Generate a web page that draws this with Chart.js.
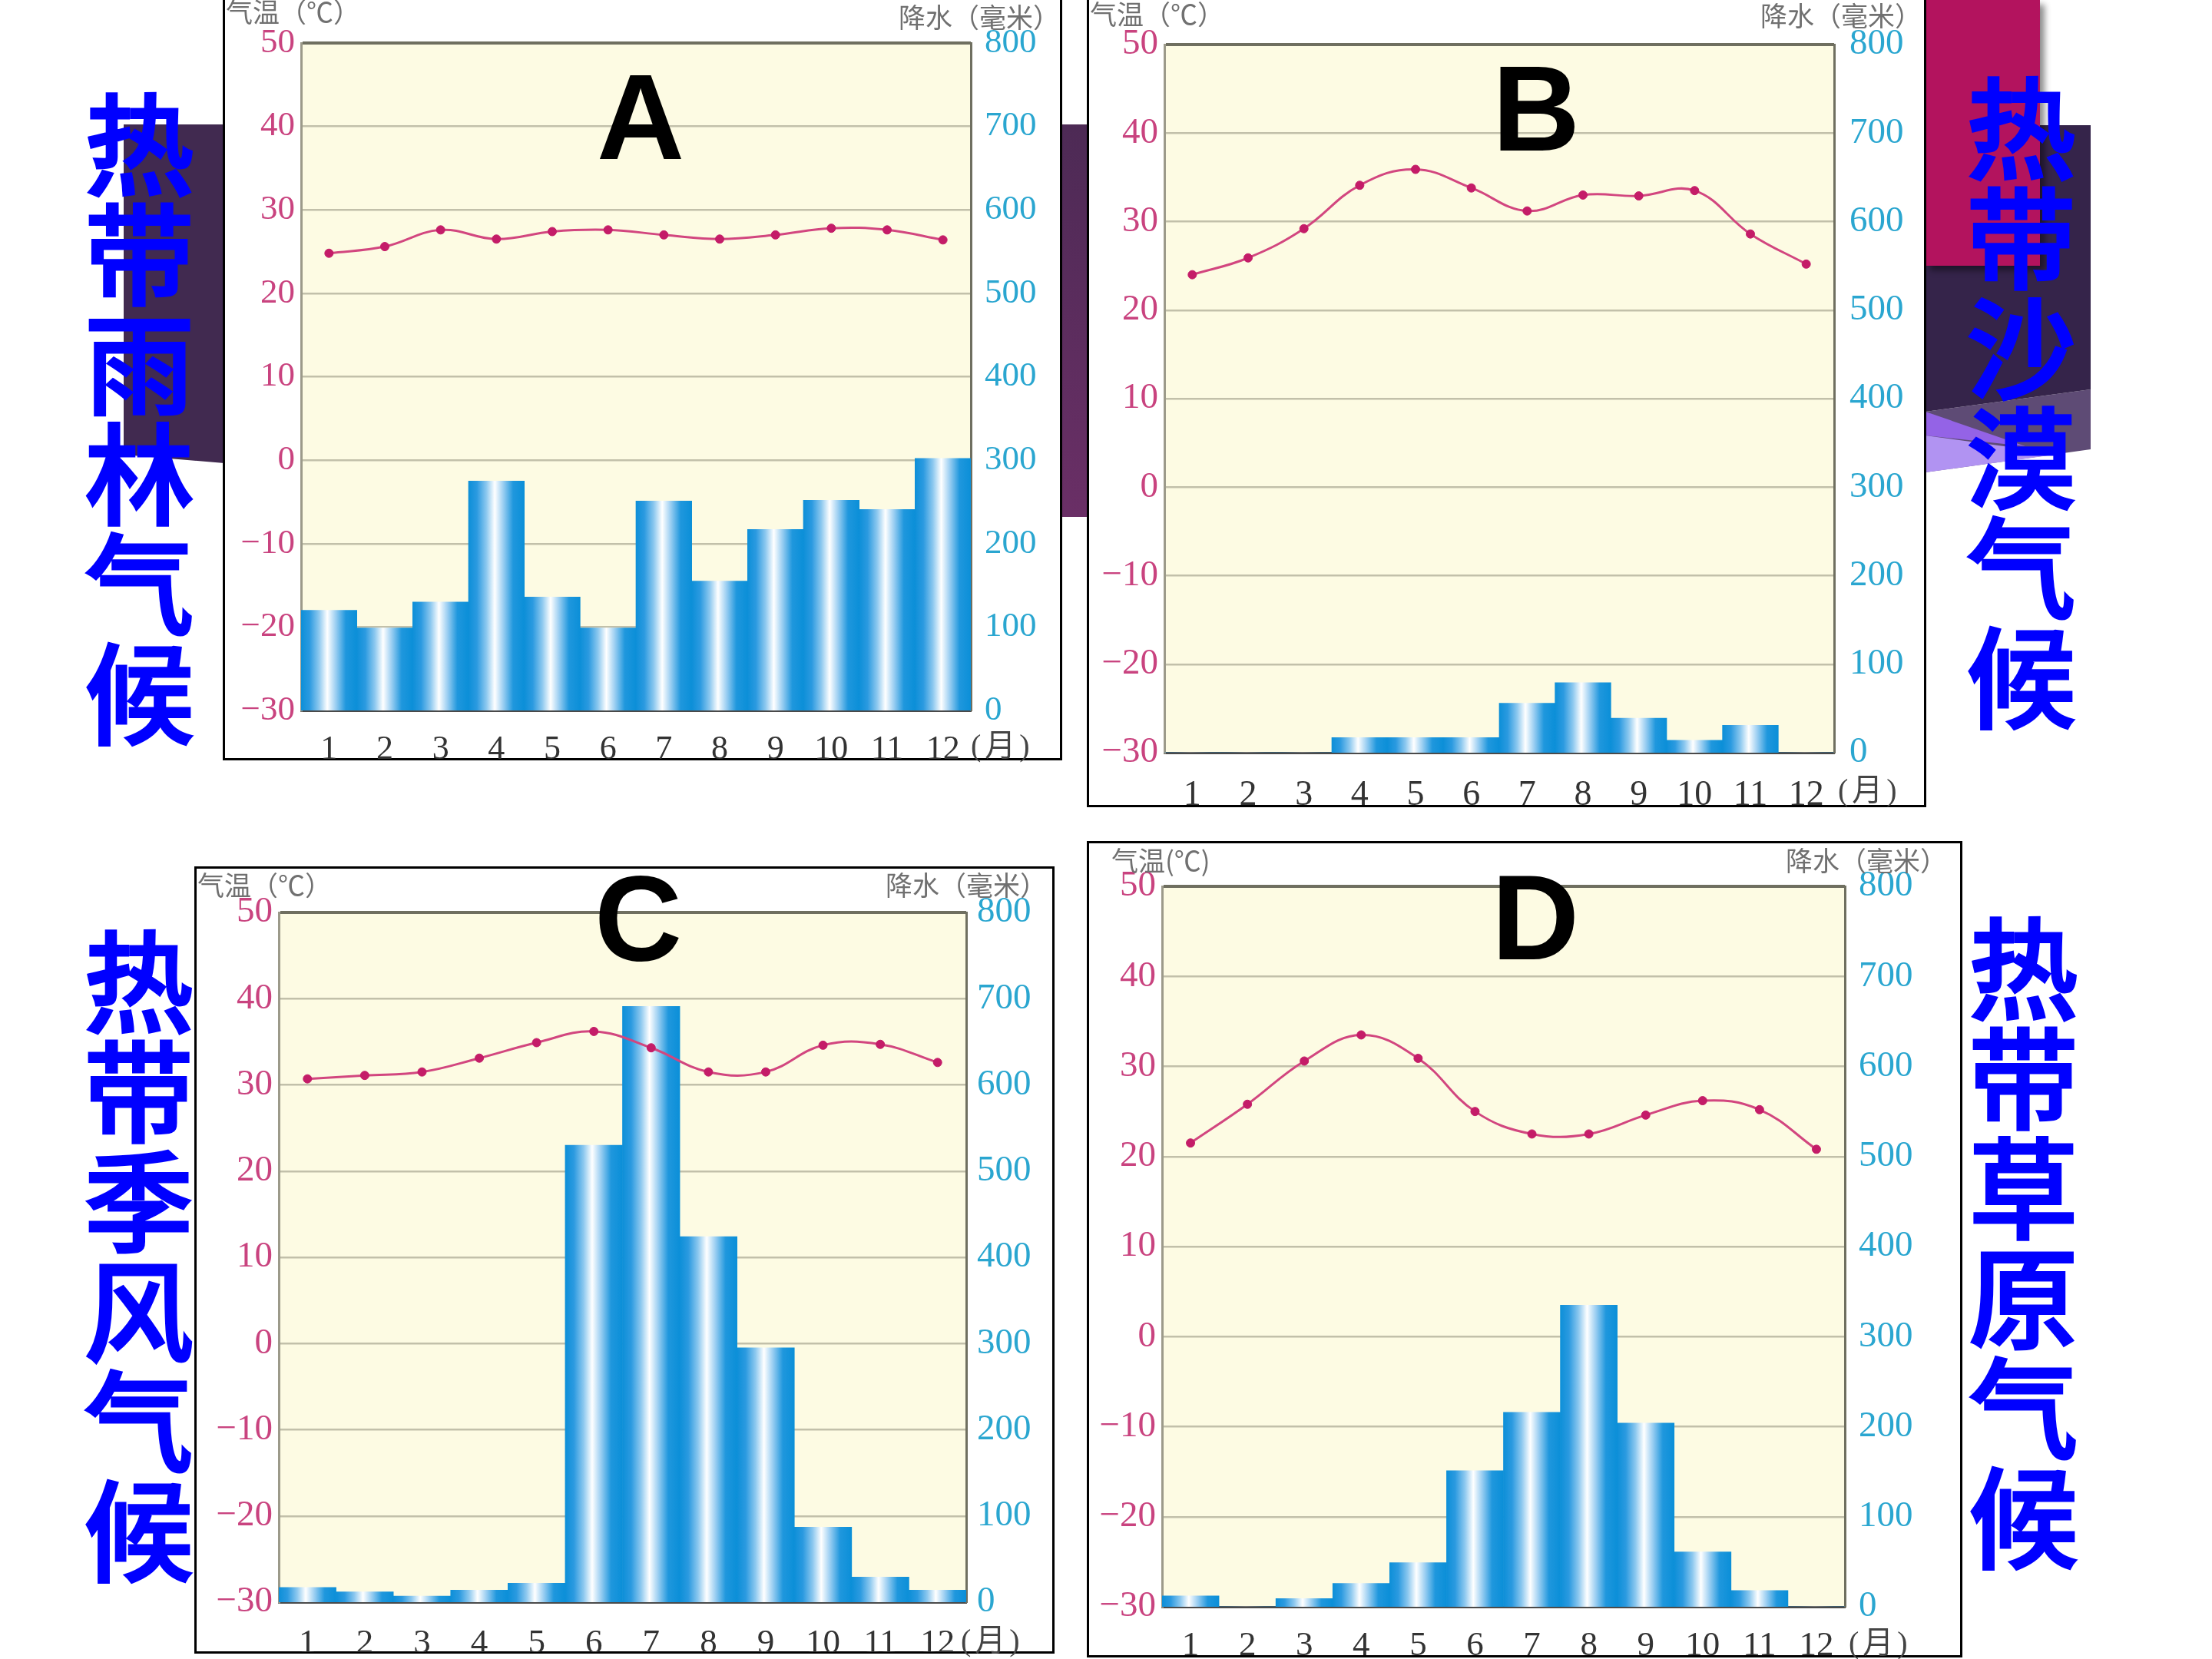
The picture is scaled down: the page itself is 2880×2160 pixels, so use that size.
<!DOCTYPE html>
<html><head><meta charset="utf-8">
<script src="https://cdn.jsdelivr.net/npm/chart.js@4.4.0/dist/chart.umd.min.js"></script>
<style>
html,body{margin:0;padding:0;background:#fff;}
body{width:2880px;height:2160px;position:relative;overflow:hidden;}
.deco{position:absolute;}
.box{position:absolute;box-sizing:border-box;border:3px solid #000;background:#fff;}
.cjk{position:absolute;font-family:"Noto Sans CJK SC";color:#0000ff;font-weight:500;font-size:143px;line-height:143px;width:143px;text-align:center;word-break:break-all;-webkit-text-stroke:3px #0000ff;}
.letter{position:absolute;font-family:"Liberation Sans",Arial,sans-serif;font-weight:700;font-size:158px;line-height:158px;color:#000;width:240px;text-align:center;}
.ax{position:absolute;font-family:"Noto Sans CJK SC";color:#707070;font-size:35px;line-height:35px;white-space:nowrap;}
.mon{position:absolute;font-family:"Liberation Serif","Noto Sans CJK SC";color:#444;font-size:40px;line-height:40px;white-space:nowrap;letter-spacing:5px;}
canvas{position:absolute;}
</style>
</head>
<body>
<!-- background decorations -->
<div class="deco" style="left:161px;top:162px;width:131px;height:441px;background:#412a50;clip-path:polygon(0 0,100% 0,100% 100%,0 430px);"></div>
<div class="deco" style="left:1382px;top:162px;width:34px;height:511px;background:linear-gradient(#4d2a55,#6a2f66);"></div>
<div class="deco" style="left:2507px;top:163px;width:215px;height:452px;background:#5e4b75;clip-path:polygon(0 373px,215px 344px,215px 422px,0 452px);"></div>
<div class="deco" style="left:2507px;top:163px;width:215px;height:452px;background:#35244a;clip-path:polygon(0 0,215px 0,215px 344px,0 373px);"></div>
<div class="deco" style="left:2507px;top:163px;width:215px;height:452px;background:#9463e6;clip-path:polygon(0 373px,130px 418px,0 404px);"></div>
<div class="deco" style="left:2507px;top:163px;width:215px;height:452px;background:#b193f2;clip-path:polygon(0 404px,175px 428px,0 452px);"></div>
<div class="deco" style="left:2507px;top:0px;width:149px;height:346px;background:#b3135e;box-shadow:6px 6px 8px rgba(0,0,0,0.45);"></div>

<!-- panel boxes -->
<div class="box" style="left:290px;top:-10px;width:1093px;height:1000px;"></div>
<div class="box" style="left:1415px;top:-10px;width:1093px;height:1061px;"></div>
<div class="box" style="left:253px;top:1128px;width:1120px;height:1025px;"></div>
<div class="box" style="left:1415px;top:1095px;width:1140px;height:1063px;"></div>

<canvas id="cA" width="1091" height="989" style="left:291px;top:0px;"></canvas>
<canvas id="cB" width="1089" height="1050" style="left:1417px;top:0px;"></canvas>
<canvas id="cC" width="1116" height="1021" style="left:255px;top:1130px;"></canvas>
<canvas id="cD" width="1136" height="1059" style="left:1417px;top:1097px;"></canvas>

<!-- axis titles -->
<div class="ax" style="left:294px;top:-4px;">气温（℃）</div>
<div class="ax" style="left:1170px;top:3px;">降水（毫米）</div>
<div class="ax" style="left:1419px;top:-1px;">气温（℃）</div>
<div class="ax" style="left:2292px;top:1px;">降水（毫米）</div>
<div class="ax" style="left:257px;top:1133px;">气温（℃）</div>
<div class="ax" style="left:1153px;top:1133px;">降水（毫米）</div>
<div class="ax" style="left:1447px;top:1101px;">气温(℃)</div>
<div class="ax" style="left:2325px;top:1101px;">降水（毫米）</div>

<div class="mon" style="left:1264px;top:951px;">(月)</div>
<div class="mon" style="left:2393px;top:1009px;">(月)</div>
<div class="mon" style="left:1251px;top:2116px;">(月)</div>
<div class="mon" style="left:2407px;top:2119px;">(月)</div>

<div class="letter" style="left:714px;top:73px;">A</div>
<div class="letter" style="left:1880px;top:62px;">B</div>
<div class="letter" style="left:711px;top:1116px;">C</div>
<div class="letter" style="left:1879px;top:1115px;">D</div>

<div class="cjk" style="left:110px;top:109px;">热带雨林气候</div>
<div class="cjk" style="left:2560px;top:88px;">热带沙漠气候</div>
<div class="cjk" style="left:109px;top:1199px;">热带季风气候</div>
<div class="cjk" style="left:2563px;top:1182px;">热带草原气候</div>

<script>
const months = ['1','2','3','4','5','6','7','8','9','10','11','12'];
const tempTicks = [-30,-20,-10,0,10,20,30,40,50];
const precipTicks = [0,100,200,300,400,500,600,700,800];

const tempA   = [24.8, 25.6, 27.6, 26.5, 27.4, 27.6, 27.0, 26.5, 27.0, 27.8, 27.6, 26.4];
const precipA = [120, 99, 130, 275, 136, 99, 251, 155, 217, 252, 241, 302];

const tempB   = [24.0, 25.9, 29.2, 34.1, 35.9, 33.8, 31.2, 33.0, 32.9, 33.5, 28.6, 25.2];
const precipB = [0, 0, 0, 17, 17, 17, 56, 79, 39, 14, 31, 0];

const tempC   = [30.7, 31.1, 31.5, 33.1, 34.9, 36.2, 34.3, 31.5, 31.5, 34.6, 34.7, 32.6];
const precipC = [17, 12, 7, 14, 22, 530, 691, 424, 295, 87, 29, 14];

const tempD   = [21.5, 25.8, 30.6, 33.5, 30.9, 25.0, 22.5, 22.5, 24.6, 26.2, 25.2, 20.8];
const precipD = [12, 0, 9, 26, 49, 151, 216, 335, 204, 61, 18, 0];

const plotBg = {
  id: 'plotBg',
  beforeDraw(chart) {
    const a = chart.chartArea; const c = chart.ctx;
    c.save(); c.fillStyle = '#fdfbe3';
    c.fillRect(a.left, a.top, a.right - a.left, a.bottom - a.top);
    c.restore();
  }
};

function barFill(ctx) {
  const chart = ctx.chart;
  const xs = chart.scales && chart.scales.x;
  const a = chart.chartArea;
  if (!xs || !a || ctx.dataIndex === undefined) return '#0d8fd8';
  const cx = xs.getPixelForValue(ctx.dataIndex);
  const w = (a.right - a.left) / months.length;
  if (!isFinite(cx) || !isFinite(w)) return '#0d8fd8';
  const g = chart.ctx.createLinearGradient(cx - w / 2, 0, cx + w / 2, 0);
  g.addColorStop(0, '#0d8fd8');
  g.addColorStop(0.15, '#2b9ae0');
  g.addColorStop(0.32, '#8cc8ef');
  g.addColorStop(0.47, '#ffffff');
  g.addColorStop(0.62, '#9ccff2');
  g.addColorStop(0.8, '#1f97dd');
  g.addColorStop(1, '#0b8fd8');
  return g;
}

const fmtTick = v => String(v).replace('-', '\u2212');

function makeChart(id, temp, precip, g) {
  const el = document.getElementById(id);
  return new Chart(el, {
    type: 'bar',
    data: {
      labels: months,
      datasets: [
        {
          type: 'line', data: temp, yAxisID: 'y', order: 0,
          borderColor: '#d2467f', borderWidth: 3, tension: 0.4,
          pointRadius: 5.5, pointBackgroundColor: '#c41c68', pointBorderColor: '#c41c68', pointBorderWidth: 1,
          fill: false
        },
        {
          type: 'bar', data: precip, yAxisID: 'y2', order: 1,
          backgroundColor: barFill, borderWidth: 0,
          barPercentage: 1.0, categoryPercentage: 1.0
        }
      ]
    },
    options: {
      responsive: false, animation: false, devicePixelRatio: 1,
      layout: { padding: { top: g.top, left: 0, right: 0, bottom: 0 } },
      plugins: { legend: { display: false }, tooltip: { enabled: false } },
      scales: {
        x: {
          offset: true,
          grid: { display: false, drawTicks: false },
          border: { display: true, color: '#4a4a4a', width: 3 },
          ticks: { color: '#333', font: { family: 'Liberation Serif', size: g.mfs }, padding: g.xpad, maxRotation: 0, autoSkip: false },
          afterFit: s => { s.height = g.xh; }
        },
        y: {
          position: 'left', min: -30, max: 50,
          afterBuildTicks: s => { s.ticks = tempTicks.map(v => ({ value: v })); },
          grid: {
            drawTicks: false,
            color: c => (c.tick && c.tick.value === 50) ? '#6f6f60' : '#c2c0aa',
            lineWidth: c => (c.tick && c.tick.value === 50) ? 4 : 2.5
          },
          border: { display: true, color: '#9c9a8a', width: 3 },
          ticks: { color: '#c9437f', font: { family: 'Liberation Serif', size: g.fs }, padding: 8, callback: fmtTick },
          afterFit: s => { s.width = g.yw; }
        },
        y2: {
          position: 'right', min: 0, max: 800,
          afterBuildTicks: s => { s.ticks = precipTicks.map(v => ({ value: v })); },
          grid: { display: false, drawTicks: false },
          border: { display: true, color: '#6f6f60', width: 3 },
          ticks: { color: '#2aa6d0', font: { family: 'Liberation Serif', size: g.fs }, padding: g.rpad, callback: fmtTick },
          afterFit: s => { s.width = g.y2w; }
        }
      }
    },
    plugins: [plotBg]
  });
}

makeChart('cA', tempA, precipA, { top: 56, xh: 64, yw: 101, y2w: 118, fs: 45, mfs: 44, xpad: 25, rpad: 18 });
makeChart('cB', tempB, precipB, { top: 58, xh: 70, yw: 99,  y2w: 118, fs: 47, mfs: 46, xpad: 28, rpad: 20 });
makeChart('cC', tempC, precipC, { top: 58, xh: 65, yw: 108, y2w: 113, fs: 47, mfs: 45, xpad: 27, rpad: 14 });
makeChart('cD', tempD, precipD, { top: 57, xh: 64, yw: 96,  y2w: 151, fs: 47, mfs: 45, xpad: 24, rpad: 18 });
</script>
</body></html>
